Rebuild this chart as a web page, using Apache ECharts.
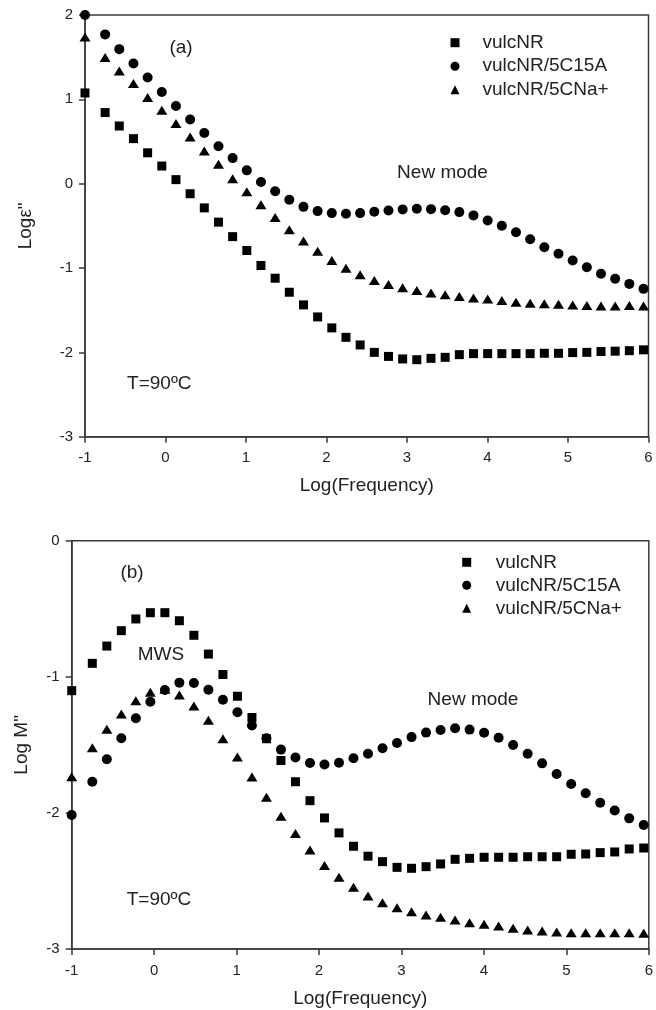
<!DOCTYPE html>
<html>
<head>
<meta charset="utf-8">
<script src="https://cdn.jsdelivr.net/npm/echarts@6/dist/echarts.min.js"></script>
<style>
  html, body { margin: 0; padding: 0; background: #fff; }
  #main { width: 656px; height: 1010px; }
</style>
</head>
<body>
<div id="main"></div>
<script>
// log10 of frequency, same for every series
var logFreq = [-1, -0.75, -0.574, -0.398, -0.222, -0.046, 0.13, 0.306, 0.482, 0.658,
  0.834, 1.01, 1.186, 1.362, 1.538, 1.714, 1.89, 2.066, 2.242, 2.418,
  2.594, 2.77, 2.946, 3.122, 3.298, 3.474, 3.65, 3.826, 4.002, 4.178,
  4.354, 4.53, 4.706, 4.882, 5.058, 5.234, 5.41, 5.586, 5.762, 5.938];

var seriesNames = ['vulcNR', 'vulcNR/5C15A', 'vulcNR/5CNa+'];

// (a) log eps''
var epsVulc = [1.076, 0.843, 0.684, 0.534, 0.366, 0.209, 0.048, -0.119, -0.287, -0.456,
  -0.628, -0.792, -0.97, -1.121, -1.287, -1.437, -1.58, -1.71, -1.822, -1.912,
  -2.0, -2.048, -2.078, -2.087, -2.071, -2.059, -2.027, -2.015, -2.015, -2.015,
  -2.015, -2.015, -2.011, -2.011, -2.003, -2.0, -1.99, -1.986, -1.98, -1.97];
var epsC15A = [2.0, 1.77, 1.595, 1.425, 1.259, 1.088, 0.922, 0.76, 0.601, 0.443,
  0.303, 0.158, 0.019, -0.09, -0.19, -0.275, -0.325, -0.349, -0.356, -0.349,
  -0.333, -0.317, -0.305, -0.297, -0.302, -0.314, -0.337, -0.376, -0.436, -0.499,
  -0.575, -0.658, -0.753, -0.831, -0.911, -0.99, -1.069, -1.128, -1.188, -1.247];
var epsNa = [1.74, 1.496, 1.337, 1.188, 1.021, 0.871, 0.713, 0.553, 0.387, 0.229,
  0.059, -0.095, -0.25, -0.40, -0.545, -0.68, -0.80, -0.911, -1.002, -1.081,
  -1.148, -1.196, -1.235, -1.267, -1.295, -1.318, -1.338, -1.354, -1.366, -1.386,
  -1.406, -1.418, -1.425, -1.43, -1.438, -1.445, -1.449, -1.449, -1.445, -1.45];

// (b) log M''
var mVulc = [-1.102, -0.901, -0.774, -0.661, -0.575, -0.529, -0.529, -0.588, -0.695, -0.833,
  -0.983, -1.143, -1.299, -1.455, -1.615, -1.771, -1.91, -2.037, -2.147, -2.245,
  -2.318, -2.358, -2.40, -2.407, -2.395, -2.375, -2.341, -2.334, -2.326, -2.326,
  -2.326, -2.322, -2.322, -2.322, -2.304, -2.302, -2.292, -2.287, -2.265, -2.258];
var mC15A = [-2.015, -1.771, -1.606, -1.452, -1.305, -1.183, -1.097, -1.043, -1.045, -1.095,
  -1.168, -1.26, -1.358, -1.452, -1.535, -1.593, -1.633, -1.645, -1.631, -1.599,
  -1.565, -1.525, -1.487, -1.443, -1.41, -1.391, -1.378, -1.388, -1.411, -1.448,
  -1.501, -1.565, -1.636, -1.714, -1.788, -1.856, -1.925, -1.982, -2.04, -2.089];
var mNa = [-1.734, -1.521, -1.386, -1.273, -1.176, -1.113, -1.092, -1.134, -1.215, -1.32,
  -1.455, -1.59, -1.736, -1.885, -2.025, -2.152, -2.273, -2.387, -2.473, -2.547,
  -2.611, -2.66, -2.697, -2.726, -2.75, -2.767, -2.787, -2.807, -2.819, -2.831,
  -2.848, -2.86, -2.868, -2.875, -2.88, -2.88, -2.88, -2.88, -2.88, -2.885];

var FONT = '"Liberation Sans", Arial, sans-serif';
var INK = '#222';
var AXC = '#3a3a3a';

function pairs(vals) {
  return logFreq.map(function (x, i) { return [x, vals[i]]; });
}

function xAx(idx) {
  return {
    type: 'value', gridIndex: idx, min: -1, max: 6, interval: 1,
    name: 'Log(Frequency)', nameLocation: 'middle', nameGap: 40,
    nameTextStyle: { fontFamily: FONT, fontSize: 19, color: INK },
    splitLine: { show: false },
    axisLine: { onZero: false, lineStyle: { color: AXC, width: 1.5 } },
    axisTick: { length: 6, lineStyle: { color: AXC, width: 1.5 } },
    axisLabel: { fontFamily: FONT, fontSize: 15, color: INK, margin: 14 }
  };
}

function yAx(idx, lo, hi, title, gap) {
  return {
    type: 'value', gridIndex: idx, min: lo, max: hi, interval: 1,
    name: title, nameLocation: 'middle', nameGap: gap, nameRotate: 90,
    nameTextStyle: { fontFamily: FONT, fontSize: 19, color: INK },
    splitLine: { show: false },
    axisLine: { onZero: false, lineStyle: { color: AXC, width: 1.5 } },
    axisTick: { length: 6, lineStyle: { color: AXC, width: 1.5 } },
    axisLabel: { fontFamily: FONT, fontSize: 15, color: INK, margin: 12 }
  };
}

function sc(name, idx, vals, symbol, size) {
  return {
    name: name, type: 'scatter', xAxisIndex: idx, yAxisIndex: idx,
    symbol: symbol, symbolSize: size,
    itemStyle: { color: '#000', opacity: 1 },
    data: pairs(vals)
  };
}

// legend: small icon, text pushed right with padding
function lg(left, top, gap, pad) {
  return {
    orient: 'vertical', left: left, top: top, padding: 0,
    itemWidth: 9, itemHeight: 9, itemGap: gap,
    data: seriesNames,
    textStyle: { fontFamily: FONT, fontSize: 19, color: INK, lineHeight: 19, padding: [0, 0, 0, pad] }
  };
}

function note(txt, x, y) {
  return {
    type: 'text', x: x, y: y,
    style: { text: txt, fontFamily: FONT, fontSize: 19, fill: INK, textAlign: 'center', textVerticalAlign: 'middle' }
  };
}

var chart = echarts.init(document.getElementById('main'));

var option = {
  backgroundColor: '#fff',
  animation: false,
  grid: [
    { left: 85, top: 15, width: 563.5, height: 421.7, show: true, borderColor: AXC, borderWidth: 1.5 },
    { left: 71.7, top: 540.7, width: 582.6, height: 408.3, show: true, borderColor: AXC, borderWidth: 1.5 }
  ],
  xAxis: [xAx(0), xAx(1)],
  yAxis: [yAx(0, -3, 2, 'Logε"', 50), yAx(1, -3, 0, 'Log M"', 40)],
  legend: [lg(450.5, 33.2, 4.5, 18), lg(462.2, 552.8, 4, 19.5)],
  series: [
    sc(seriesNames[0], 0, epsVulc, 'rect', 9),
    sc(seriesNames[1], 0, epsC15A, 'circle', 10),
    sc(seriesNames[2], 0, epsNa, 'triangle', [11, 9]),
    sc(seriesNames[0], 1, mVulc, 'rect', 9),
    sc(seriesNames[1], 1, mC15A, 'circle', 10),
    sc(seriesNames[2], 1, mNa, 'triangle', [11, 9])
  ],
  graphic: [
    note('(a)', 181, 48),
    note('New mode', 442.5, 173),
    note('T=90ºC', 159.3, 384),
    note('(b)', 132, 573),
    note('MWS', 161, 655),
    note('New mode', 473, 700),
    note('T=90ºC', 159, 900)
  ]
};

chart.setOption(option);
</script>
</body>
</html>
